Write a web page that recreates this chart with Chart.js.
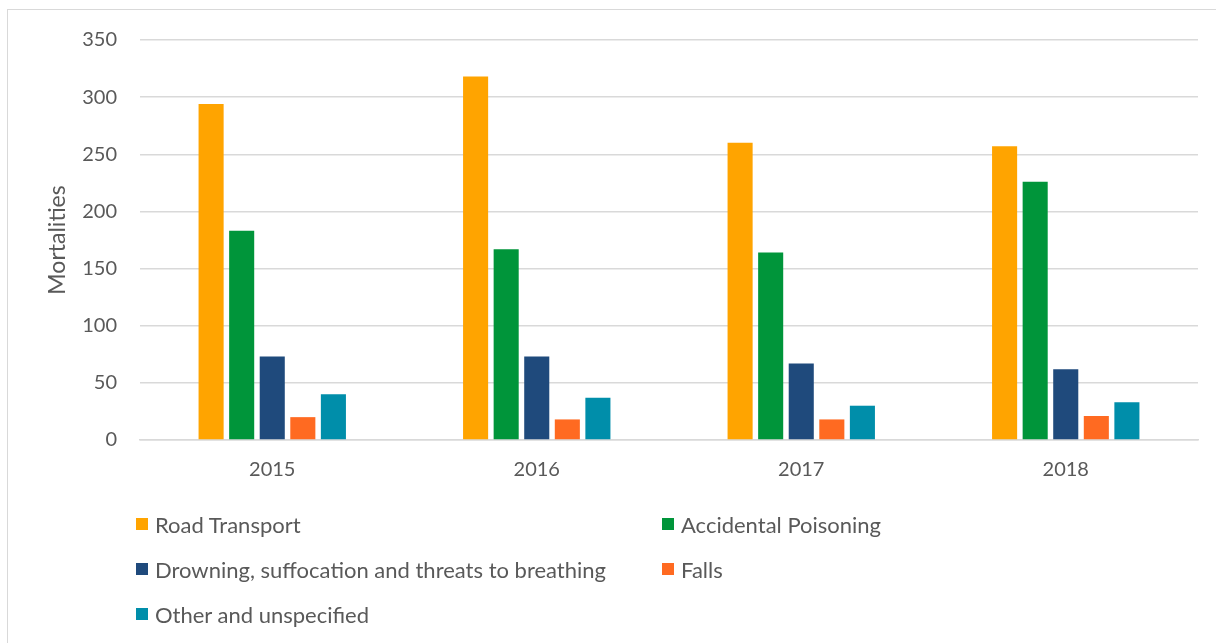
<!DOCTYPE html>
<html>
<head>
<meta charset="utf-8">
<script src="https://cdn.jsdelivr.net/npm/chart.js@4.4.1/dist/chart.umd.min.js"></script>
<style>
  html, body { margin: 0; padding: 0; background: #fff; }
  body { width: 1216px; height: 643px; position: relative; overflow: hidden; font-family: Lato, "Open Sans", sans-serif; }
  #frame { position: absolute; left: 7px; top: 9px; width: 1300px; height: 700px; border: 1.5px solid #d9d9d9; box-sizing: border-box; }
  #wrap { position: absolute; left: 0; top: 0; width: 1216px; height: 643px; }
  #legend { position: absolute; left: 136px; top: 508px; width: 1000px; display: grid; grid-template-columns: 526px 400px; row-gap: 13px; }
  .item { display: flex; align-items: center; height: 32px; color: #595959; font-size: 22px; }
  .sw { width: 12px; height: 12px; margin-right: 7px; flex: none; }
</style>
</head>
<body>
<div id="frame"></div>
<div id="wrap"><canvas id="c" width="1216" height="643"></canvas></div>
<div id="legend"></div>
<script>
// Mortalities by cause, per year
const years = ['2015', '2016', '2017', '2018'];
const roadTransport = [294, 318, 260, 257];
const accidentalPoisoning = [183, 167, 164, 226];
const drowning = [73, 73, 67, 62];
const falls = [20, 18, 18, 21];
const otherUnspecified = [40, 37, 30, 33];
const yTicks = [0, 50, 100, 150, 200, 250, 300, 350];

const textColor = '#595959';
const gridColor = '#d9d9d9';

const series = [
  { label: 'Road Transport', data: roadTransport, color: '#FFA400' },
  { label: 'Accidental Poisoning', data: accidentalPoisoning, color: '#00953A' },
  { label: 'Drowning, suffocation and threats to breathing', data: drowning, color: '#1F4A7C' },
  { label: 'Falls', data: falls, color: '#FF6A21' },
  { label: 'Other and unspecified', data: otherUnspecified, color: '#008EAA' }
];

const chart = new Chart(document.getElementById('c'), {
  type: 'bar',
  data: {
    labels: years,
    datasets: series.map(s => ({
      label: s.label,
      data: s.data,
      backgroundColor: s.color,
      borderWidth: 0,
      categoryPercentage: 0.578,
      barPercentage: 0.82
    }))
  },
  options: {
    responsive: false,
    animation: false,
    layout: { padding: { left: 36, right: 18, top: 40, bottom: 153 } },
    plugins: { legend: { display: false }, tooltip: { enabled: false } },
    scales: {
      x: {
        grid: { display: false, drawTicks: false },
        border: { display: true, color: gridColor, width: 1.5 },
        ticks: { color: textColor, font: { family: 'Lato', size: 20 }, padding: 18 },
        afterFit: s => { s.height = 50; }
      },
      y: {
        min: 0,
        max: 350,
        afterBuildTicks: s => { s.ticks = yTicks.map(v => ({ value: v })); },
        grid: { color: gridColor, lineWidth: 1.5, drawTicks: false },
        border: { display: false },
        ticks: { color: textColor, font: { family: 'Lato', size: 20 }, padding: 23 },
        title: { display: true, text: 'Mortalities', color: textColor, font: { family: 'Lato', size: 23 }, padding: { top: 8, bottom: 0 } },
        afterFit: s => { s.width = 104; }
      }
    }
  }
});

// HTML legend laid out in two columns
const legendEl = document.getElementById('legend');
chart.data.datasets.forEach(ds => {
  const item = document.createElement('div');
  item.className = 'item';
  const sw = document.createElement('span');
  sw.className = 'sw';
  sw.style.background = ds.backgroundColor;
  const txt = document.createElement('span');
  txt.textContent = ds.label;
  item.appendChild(sw);
  item.appendChild(txt);
  legendEl.appendChild(item);
});
</script>
</body>
</html>
